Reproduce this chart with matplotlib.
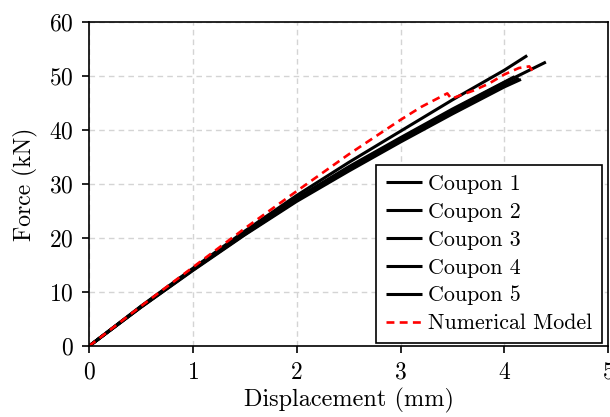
#!/usr/bin/env python3
import numpy as np
import matplotlib

matplotlib.use("Agg")
import matplotlib.pyplot as plt

# Force-displacement readings (mm, kN)
coupon_x = [
    [0, 0.5, 1.0, 1.5, 2.0, 2.5, 3.0, 3.5, 4.0, 4.22],
    [0, 0.5, 1.0, 1.5, 2.0, 2.5, 3.0, 3.5, 4.0, 4.40],
    [0, 0.5, 1.0, 1.5, 2.0, 2.5, 3.0, 3.5, 4.0, 4.14],
    [0, 0.5, 1.0, 1.5, 2.0, 2.5, 3.0, 3.5, 4.0, 4.10],
    [0, 0.5, 1.0, 1.5, 2.0, 2.5, 3.0, 3.5, 4.0, 4.16],
]
coupon_y = [
    [0, 7.4, 14.4, 21.3, 27.9, 34.0, 39.8, 45.6, 51.1, 53.8],
    [0, 7.3, 14.2, 20.9, 27.2, 33.0, 38.4, 43.7, 48.8, 52.6],
    [0, 7.2, 14.1, 20.7, 27.0, 32.7, 38.0, 43.3, 48.3, 49.6],
    [0, 7.3, 14.3, 21.0, 27.4, 33.2, 38.6, 43.9, 48.9, 49.9],
    [0, 7.2, 14.0, 20.6, 26.8, 32.4, 37.8, 43.0, 48.0, 49.4],
]
coupon_labels = ["Coupon 1", "Coupon 2", "Coupon 3", "Coupon 4", "Coupon 5"]

model_x = [0, 0.5, 1.0, 1.5, 2.0, 2.5, 3.0, 3.2, 3.35, 3.45, 3.49, 3.57,
           3.7, 3.85, 4.0, 4.14, 4.24, 4.27, 4.29]
model_y = [0, 7.4, 14.6, 21.8, 28.7, 35.5, 41.9, 44.3, 45.8, 46.8, 45.8, 46.4,
           47.3, 48.6, 50.3, 51.5, 51.8, 51.0, 50.4]

plt.rcParams["font.family"] = "cmr10"
plt.rcParams["axes.formatter.use_mathtext"] = True
plt.rcParams["mathtext.fontset"] = "cm"

fig = plt.figure(figsize=(6.1, 4.17), dpi=100)
ax = fig.add_axes([0.146, 0.170, 0.851, 0.777])

for xs, ys, lab in zip(coupon_x, coupon_y, coupon_labels):
    ax.plot(xs, ys, color="black", lw=2.2, label=lab, solid_capstyle="butt")

ax.plot(model_x, model_y, color="red", lw=1.9, ls=(0, (3.0, 2.0)),
        label="Numerical Model")

ax.set_xlim(0, 5)
ax.set_ylim(0, 60)
ax.set_xticks(range(0, 6))
ax.set_yticks(range(0, 61, 10))

ax.grid(True, color="#d4d4d4", ls=(0, (4, 3)), lw=1.0)
ax.set_axisbelow(True)

for s in ax.spines.values():
    s.set_linewidth(1.2)
ax.tick_params(direction="out", length=5, width=1.2, labelsize=17, pad=6)

ax.set_xlabel("Displacement (mm)", fontsize=17.5, labelpad=3)
ax.set_ylabel("Force (kN)", fontsize=17, labelpad=8)

leg = ax.legend(loc="lower right", bbox_to_anchor=(0.988, 0.009),
                borderaxespad=0, fontsize=15.8, fancybox=False,
                edgecolor="black", framealpha=1, handlelength=1.65,
                handletextpad=0.25, labelspacing=0.38, borderpad=0.45)
leg.get_frame().set_linewidth(1.2)

fig.savefig("out.png", dpi=100)
